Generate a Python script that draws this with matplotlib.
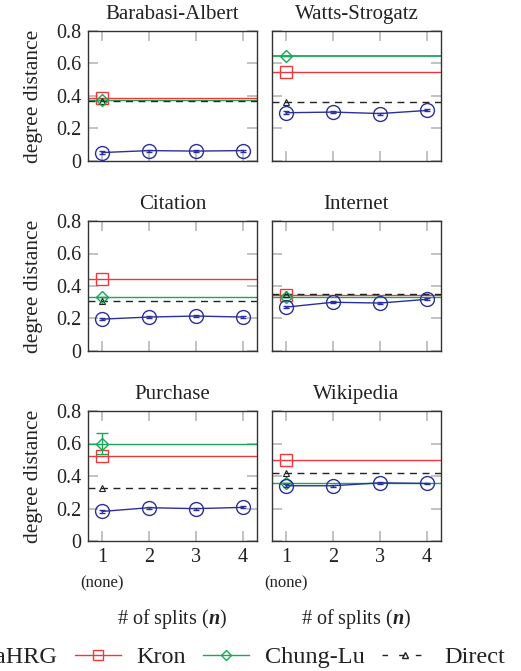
import matplotlib
matplotlib.use('Agg')
import matplotlib.pyplot as plt
from matplotlib.lines import Line2D
from matplotlib.ticker import FixedLocator, FuncFormatter

plt.rcParams['font.family'] = ['Liberation Serif', 'DejaVu Serif']
plt.rcParams['mathtext.fontset'] = 'custom'
plt.rcParams['mathtext.rm'] = 'Liberation Serif'
plt.rcParams['mathtext.it'] = 'Liberation Serif:italic'
plt.rcParams['mathtext.bf'] = 'Liberation Serif:bold'
plt.rcParams['mathtext.bfit'] = 'Liberation Serif:italic:bold'

# ---- data ----
splits = [1, 2, 3, 4]
datasets = ['Barabasi-Albert', 'Watts-Strogatz', 'Citation', 'Internet', 'Purchase', 'Wikipedia']
hrg_ba = [0.052, 0.064, 0.061, 0.064]
hrg_ws = [0.297, 0.301, 0.292, 0.311]
hrg_cit = [0.196, 0.209, 0.215, 0.209]
hrg_int = [0.270, 0.300, 0.295, 0.318]
hrg_pur = [0.182, 0.205, 0.199, 0.207]
hrg_wiki = [0.340, 0.340, 0.358, 0.354]
hrg_err = [0.008, 0.006, 0.006, 0.006]
kron = [0.388, 0.545, 0.442, 0.343, 0.524, 0.499]
chung_lu = [0.374, 0.644, 0.330, 0.333, 0.600, 0.360]
chung_lu_err = [0.0, 0.0, 0.0, 0.0, 0.065, 0.0]
direct = [0.370, 0.361, 0.306, 0.349, 0.325, 0.416]
yticks = [0, 0.2, 0.4, 0.6, 0.8]
names = ['ScalaHRG', 'Kron', 'Chung-Lu', 'Direct']

hrg_all = [hrg_ba, hrg_ws, hrg_cit, hrg_int, hrg_pur, hrg_wiki]

c_blue = '#2b2f9a'
c_red = '#f0383c'
c_green = '#18a858'
c_black = '#222222'
tick_gray = '#b8b8b8'
txt = '#222222'

W, H = 521, 671
fig = plt.figure(figsize=(W / 100, H / 100), dpi=100)

lefts = [88, 272]
width = 169
row_tops = [31, 221, 411]
height = 130

fs = 14.5
for i, name in enumerate(datasets):
    r, c = divmod(i, 2)
    ax = fig.add_axes([lefts[c] / W, 1 - (row_tops[r] + height) / H, width / W, height / H])
    ax.set_xlim(0.7, 4.3)
    ax.set_ylim(0, 0.8)
    ax.axhline(kron[i], color=c_red, lw=1.0, zorder=2)
    ax.axhline(chung_lu[i], color=c_green, lw=1.3 if i == 1 else 1.0, zorder=2)
    ax.axhline(direct[i], color=c_black, lw=1.0, ls=(0, (5, 4)), zorder=2)
    ax.plot([splits[0]], [kron[i]], marker='s', ms=9, mfc='none', mec=c_red, mew=1.0, zorder=3)
    ax.errorbar([splits[0]], [chung_lu[i]], yerr=[chung_lu_err[i]], marker='D', ms=6.5,
                mfc='none', mec=c_green, mew=1.0, ecolor=c_green, elinewidth=1.0,
                capsize=4, color=c_green, zorder=3)
    ax.plot([splits[0]], [direct[i]], marker='^', ms=5, mfc='none', mec=c_black, mew=0.8, zorder=3)
    ax.errorbar(splits, hrg_all[i], yerr=hrg_err, color=c_blue, lw=1.0, marker='o', ms=10,
                mfc='none', mec=c_blue, mew=1.0, ecolor=c_blue, elinewidth=1.0, capsize=2,
                zorder=4)
    ax.set_title(name, fontsize=fs + 0.5, pad=8.5, color=txt)
    ax.xaxis.set_major_locator(FixedLocator(splits))
    ax.yaxis.set_major_locator(FixedLocator(yticks))
    ax.tick_params(direction='in', length=7, width=1.2, color=tick_gray,
                   top=True, right=True, labelsize=fs, labelcolor=txt, pad=5)
    ax.yaxis.set_major_formatter(FuncFormatter(lambda v, p: '0' if v == 0 else f'{v:.1f}'))
    for s in ax.spines.values():
        s.set_color('#333333')
        s.set_linewidth(1.0)
    if c == 1:
        ax.tick_params(labelleft=False)
    else:
        ax.set_ylabel('degree distance', fontsize=15.5, color=txt, labelpad=9)
    if r < 2:
        ax.tick_params(labelbottom=False)
    else:
        ax.text(splits[0], -0.325, '(none)', transform=ax.get_xaxis_transform(),
                ha='center', va='center', fontsize=12, color=txt)
        ax.set_xlabel(r'# of splits ($\mathbfit{n}$)', fontsize=fs, color=txt, labelpad=29)

handles = [
    Line2D([], [], color=c_blue, lw=1.0, marker='o', ms=7, mfc='none', mec=c_blue),
    Line2D([], [], color=c_red, lw=1.0, marker='s', ms=7, mfc='none', mec=c_red),
    Line2D([], [], color=c_green, lw=1.0, marker='D', ms=5, mfc='none', mec=c_green),
    Line2D([], [], color=c_black, lw=1.0, ls=(0, (4, 8)), marker='^', ms=5, mfc='none', mec=c_black),
]
fig.legend(handles, names, ncol=4, loc='center right', bbox_to_anchor=(505 / W, 1 - 657 / H),
           frameon=False, fontsize=17.5, handlelength=1.9, handletextpad=0.65,
           columnspacing=0.7, borderaxespad=0, borderpad=0, labelcolor=txt)

fig.savefig('out.png', dpi=100)
